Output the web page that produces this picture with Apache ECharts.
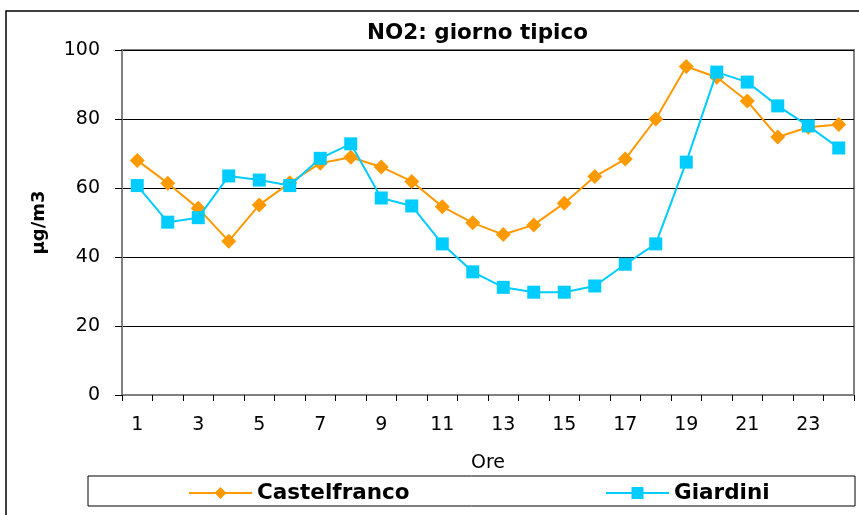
<!DOCTYPE html>
<html>
<head>
<meta charset="utf-8">
<script src="https://cdn.jsdelivr.net/npm/echarts@6/dist/echarts.min.js"></script>
<style>
  html, body { margin: 0; padding: 0; background: #fff; }
  #main { width: 859px; height: 515px; }
</style>
</head>
<body>
<div id="main"></div>
<script>
// ore del giorno
var ore = ['1','2','3','4','5','6','7','8','9','10','11','12','13','14','15','16','17','18','19','20','21','22','23','24'];
// NO2 medio orario (µg/m3)
var castelfranco = [68, 61.4, 54.1, 44.6, 55.1, 61.5, 67.2, 68.9, 66.1, 61.9, 54.6, 49.9,
                    46.5, 49.3, 55.6, 63.3, 68.4, 80, 95.2, 92.1, 85.2, 74.8, 77.6, 78.4];
var giardini = [60.7, 50.1, 51.4, 63.5, 62.3, 60.7, 68.6, 72.8, 57.1, 54.8, 43.8, 35.7,
                31.2, 29.8, 29.8, 31.6, 37.9, 43.8, 67.5, 93.6, 90.7, 83.8, 78, 71.6];

var font = 'DejaVu Sans, Verdana, sans-serif';
var chart = echarts.init(document.getElementById('main'));

var legendText = { fontFamily: font, fontSize: 21.5, fontWeight: 'bold', color: '#000' };

var option = {
  animation: false,
  backgroundColor: '#fff',
  title: {
    text: 'NO2: giorno tipico',
    left: 362,
    top: 17,
    textStyle: { fontFamily: font, fontSize: 21.5, fontWeight: 'bold', color: '#000' }
  },
  grid: { left: 122, top: 50, right: 5, bottom: 120, show: true, borderColor: '#808080', borderWidth: 2 },
  legend: [
    { left: 183, top: 477, itemWidth: 63, itemHeight: 15, textStyle: legendText, data: ['Castelfranco'] },
    { left: 600, top: 477, itemWidth: 63, itemHeight: 15, textStyle: legendText, data: ['Giardini'] }
  ],
  xAxis: {
    type: 'category',
    data: ore,
    name: 'Ore',
    nameLocation: 'middle',
    nameGap: 59,
    nameTextStyle: { fontFamily: font, fontSize: 19, color: '#000' },
    axisLine: { lineStyle: { color: '#808080', width: 2 } },
    axisTick: { show: true, interval: 0, length: 6, lineStyle: { color: '#000' } },
    axisLabel: { interval: 1, margin: 21, fontFamily: font, fontSize: 19, color: '#000' },
    splitLine: { show: false }
  },
  yAxis: {
    type: 'value',
    min: 0, max: 100, interval: 20,
    name: 'µg/m3',
    nameLocation: 'middle',
    nameGap: 74,
    nameTextStyle: { fontFamily: font, fontSize: 18, fontWeight: 'bold', color: '#000' },
    axisLine: { show: true, lineStyle: { color: '#808080', width: 2 } },
    axisTick: { show: true, length: 7, inside: false, lineStyle: { color: '#000' } },
    axisLabel: { margin: 22, fontFamily: font, fontSize: 19, color: '#000' },
    splitLine: { lineStyle: { color: '#000', width: 1 } }
  },
  graphic: [
    { type: 'rect', shape: { x: 6, y: 11, width: 870, height: 520 }, style: { fill: 'none', stroke: '#000', lineWidth: 1.5 }, z: 0 },
    { type: 'rect', shape: { x: 88, y: 476, width: 767, height: 30 }, style: { fill: 'none', stroke: '#000', lineWidth: 1 }, z: 0 }
  ],
  series: [
    {
      name: 'Castelfranco',
      type: 'line',
      data: castelfranco,
      symbol: 'diamond',
      symbolSize: 15,
      itemStyle: { color: '#FF9900' },
      lineStyle: { color: '#FF9900', width: 2 },
      z: 3
    },
    {
      name: 'Giardini',
      type: 'line',
      data: giardini,
      symbol: 'rect',
      symbolSize: 13,
      itemStyle: { color: '#00CCFF' },
      lineStyle: { color: '#00CCFF', width: 2 },
      z: 4
    }
  ]
};

chart.setOption(option);
</script>
</body>
</html>
